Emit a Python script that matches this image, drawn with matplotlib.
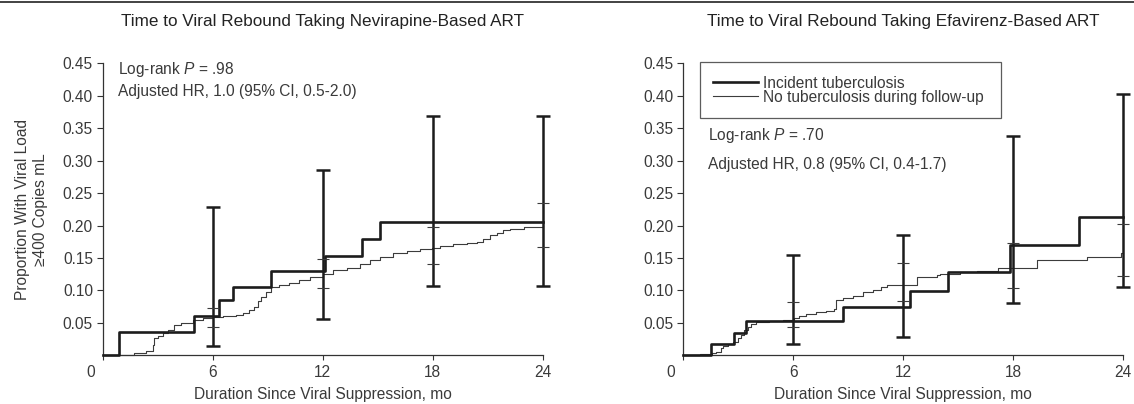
import matplotlib
matplotlib.use("Agg")
import matplotlib.pyplot as plt
from matplotlib.lines import Line2D
from matplotlib.transforms import ScaledTranslation

plt.rcParams['font.family'] = ['Liberation Sans', 'DejaVu Sans']
plt.rcParams['mathtext.fontset'] = 'custom'
plt.rcParams['mathtext.rm'] = 'Liberation Sans'
plt.rcParams['mathtext.it'] = 'Liberation Sans:italic'

# ---------------- data ----------------
titles = ["Time to Viral Rebound Taking Nevirapine-Based ART",
          "Time to Viral Rebound Taking Efavirenz-Based ART"]
series_labels = ["Incident tuberculosis", "No tuberculosis during follow-up"]
xlabel = "Duration Since Viral Suppression, mo"
ylabel = "Proportion With Viral Load\n\u2265400 Copies mL"
xtick_vals = [6, 12, 18, 24]
ytick_vals = [0.05, 0.10, 0.15, 0.20, 0.25, 0.30, 0.35, 0.40, 0.45]
ytick_labels = ["0.05", "0.10", "0.15", "0.20", "0.25", "0.30", "0.35", "0.40", "0.45"]

# Nevirapine panel
nvp_tb_t = [0, 0.9, 5.0, 6.34, 7.1, 9.18, 12.15, 14.13, 15.13, 24]
nvp_tb_y = [0, 0.036, 0.061, 0.085, 0.106, 0.130, 0.153, 0.180, 0.205, 0.205]
nvp_no_t = [0, 1.73, 2.36, 2.73, 2.82, 3.0, 3.27, 3.55, 3.91, 4.27, 4.91, 5.46, 6.0,
            6.55, 7.27, 7.64, 8.0, 8.27, 8.46, 8.64, 8.91, 9.18, 9.64, 10.18, 10.73,
            11.3, 12.0, 12.58, 13.31, 14.04, 14.58, 15.11, 15.85, 16.58, 17.31, 17.98,
            18.4, 19.13, 19.86, 20.4, 20.76, 21.13, 21.5, 21.86, 22.22, 23.0, 24]
nvp_no_y = [0, 0.003, 0.007, 0.016, 0.026, 0.030, 0.034, 0.039, 0.047, 0.050, 0.054,
            0.057, 0.0595, 0.061, 0.062, 0.065, 0.070, 0.075, 0.083, 0.090, 0.098,
            0.106, 0.108, 0.112, 0.116, 0.121, 0.125, 0.131, 0.135, 0.140, 0.147,
            0.152, 0.157, 0.161, 0.164, 0.166, 0.169, 0.171, 0.173, 0.175, 0.180,
            0.185, 0.189, 0.193, 0.195, 0.197, 0.199]
nvp_ci_t = [6, 12, 18, 24]
nvp_tb_lo = [0.015, 0.0555, 0.107, 0.107]
nvp_tb_hi = [0.229, 0.286, 0.369, 0.369]
nvp_no_lo = [0.044, 0.103, 0.140, 0.167]
nvp_no_hi = [0.073, 0.149, 0.197, 0.234]
nvp_text = ["Log-rank $P$ = .98", "Adjusted HR, 1.0 (95% CI, 0.5-2.0)"]

# Efavirenz panel
efv_tb_t = [0, 1.51, 2.77, 3.42, 8.73, 12.37, 14.42, 17.82, 21.6, 24]
efv_tb_y = [0, 0.017, 0.034, 0.053, 0.0745, 0.099, 0.128, 0.170, 0.2136, 0.2136]
efv_no_t = [0, 0.3, 0.9, 1.55, 1.77, 2.05, 2.15, 2.42, 2.69, 2.96, 3.15, 3.33, 3.51,
            3.69, 3.96, 4.69, 5.42, 6.05, 6.33, 6.69, 7.24, 7.78, 8.24, 8.33, 8.69,
            9.24, 9.78, 10.33, 10.78, 11.1, 12.73, 13.82, 14.0, 15.1, 16.0, 17.19,
            19.28, 22.0, 23.9, 24]
efv_no_y = [0, 0.001, 0.002, 0.003, 0.0055, 0.011, 0.015, 0.017, 0.020, 0.026, 0.032,
            0.039, 0.044, 0.049, 0.051, 0.053, 0.055, 0.058, 0.061, 0.063, 0.066,
            0.068, 0.072, 0.085, 0.088, 0.092, 0.097, 0.101, 0.106, 0.109, 0.121,
            0.124, 0.126, 0.129, 0.130, 0.134, 0.147, 0.152, 0.158, 0.158]
efv_ci_t = [6, 12, 18, 24]
efv_tb_lo = [0.017, 0.028, 0.080, 0.106]
efv_tb_hi = [0.154, 0.186, 0.338, 0.403]
efv_no_lo = [0.043, 0.084, 0.104, 0.122]
efv_no_hi = [0.082, 0.142, 0.173, 0.203]
efv_text = ["Log-rank $P$ = .70", "Adjusted HR, 0.8 (95% CI, 0.4-1.7)"]

# ---------------- style ----------------
TXT = '#3a3a3a'
THICK = '#1c1c1c'
THIN = '#3c3c3c'
FS = 11.2

W, H = 1134, 404
fig = plt.figure(figsize=(W / 100, H / 100), dpi=100)

ax_h = 292 / H
ax_b = (H - 355.3) / H
axL = fig.add_axes([102.7 / W, ax_b, 440 / W, ax_h])
axR = fig.add_axes([683.3 / W, ax_b, 440 / W, ax_h])

fig.add_artist(Line2D([0, 1], [1 - 1.7 / H, 1 - 1.7 / H], color='#222222', lw=1.2))


def panel(ax, title, tb_t, tb_y, no_t, no_y, ci_t, tb_lo, tb_hi, no_lo, no_hi,
          texts, text_x, text_y):
    ax.step(no_t, no_y, where='post', color=THIN, lw=0.8, clip_on=False,
            label=series_labels[1], zorder=2)
    ax.step(tb_t, tb_y, where='post', color=THICK, lw=1.9, clip_on=False,
            label=series_labels[0], zorder=3)
    ax.vlines(ci_t, tb_lo, tb_hi, color=THICK, lw=1.8, clip_on=False, zorder=4)
    ax.plot(ci_t, tb_lo, ls='none', marker='_', ms=10, mew=1.8, color=THICK,
            clip_on=False, zorder=4)
    ax.plot(ci_t, tb_hi, ls='none', marker='_', ms=10, mew=1.8, color=THICK,
            clip_on=False, zorder=4)
    ax.plot(ci_t, no_lo, ls='none', marker='_', ms=9, mew=0.8, color=THIN,
            clip_on=False, zorder=4)
    ax.plot(ci_t, no_hi, ls='none', marker='_', ms=9, mew=0.8, color=THIN,
            clip_on=False, zorder=4)

    ax.set_xlim(0, 24)
    ax.set_ylim(0, 0.45)
    ax.set_xticks([0] + xtick_vals)
    ax.set_xticklabels([''] + [str(v) for v in xtick_vals])
    ax.set_yticks(ytick_vals)
    ax.set_yticklabels(ytick_labels)
    for s in ('top', 'right'):
        ax.spines[s].set_visible(False)
    for s in ('left', 'bottom'):
        ax.spines[s].set_color('#333333')
        ax.spines[s].set_linewidth(0.9)
    ax.tick_params(axis='y', direction='out', length=4.5, width=0.8, pad=2.5,
                   colors='#333333', labelsize=FS, labelcolor=TXT)
    ax.tick_params(axis='x', direction='out', length=3.4, width=0.8, pad=3.5,
                   colors='#333333', labelsize=FS, labelcolor=TXT)
    ax.text(0, 0, '0', transform=ax.transAxes + ScaledTranslation(-0.125, -0.17, fig.dpi_scale_trans),
            ha='center', va='center', fontsize=FS, color=TXT)

    ax.set_xlabel(xlabel, fontsize=FS, color=TXT, va='center')
    ax.xaxis.set_label_coords(0.5, (355.3 - 395) / 292)
    ax.set_title(title, fontsize=12.3, color='#222222', y=(355.3 - 21.7) / 292,
                 va='center', pad=0)

    ax.text(text_x, text_y[0], texts[0], fontsize=FS, color=TXT, va='center', ha='left')
    ax.text(text_x, text_y[1], texts[1], fontsize=FS, color=TXT, va='center', ha='left')


panel(axL, titles[0], nvp_tb_t, nvp_tb_y, nvp_no_t, nvp_no_y, nvp_ci_t,
      nvp_tb_lo, nvp_tb_hi, nvp_no_lo, nvp_no_hi, nvp_text, 0.83, [0.44, 0.406])
panel(axR, titles[1], efv_tb_t, efv_tb_y, efv_no_t, efv_no_y, efv_ci_t,
      efv_tb_lo, efv_tb_hi, efv_no_lo, efv_no_hi, efv_text, 1.37, [0.338, 0.294])

axL.set_ylabel(ylabel, fontsize=FS, color=TXT, va='center', linespacing=1.3)
axL.yaxis.set_label_coords((31.5 - 102.7) / 440, 0.5)

# legend on right panel
handles, labels = axR.get_legend_handles_labels()
order = [labels.index(series_labels[0]), labels.index(series_labels[1])]
lx0 = (699.5 - 683.3) / 440
lx1 = (1000.9 - 683.3) / 440
ly1 = (355.3 - 62.3) / 292
leg = axR.legend([handles[i] for i in order], [labels[i] for i in order],
                 loc='upper left', bbox_to_anchor=(lx0, 0.0, lx1 - lx0, ly1),
                 mode='expand',
                 frameon=True, fancybox=False, edgecolor='#333333', fontsize=FS,
                 handlelength=2.9, handletextpad=0.35, borderpad=0.85, labelspacing=-0.06,
                 borderaxespad=0)
leg.get_frame().set_linewidth(0.9)
for t in leg.get_texts():
    t.set_color(TXT)

fig.savefig('out.png', dpi=100)
